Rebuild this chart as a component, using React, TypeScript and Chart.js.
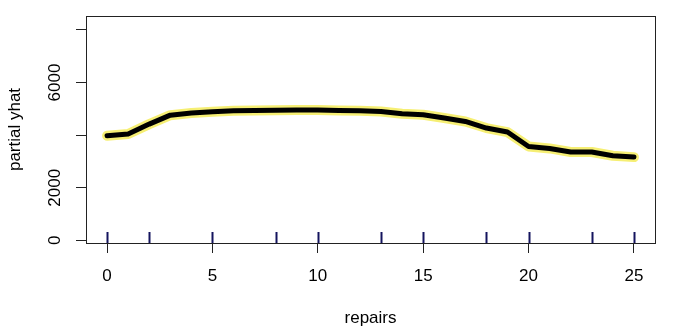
import React, { useEffect, useRef } from "react";
import { Chart, registerables } from "chart.js";

Chart.register(...registerables);

const repairs: number[] = [0, 1, 2, 3, 4, 5, 6, 7, 8, 9, 10, 11, 12, 13, 14, 15, 16, 17, 18, 19, 20, 21, 22, 23, 24, 25];
const partialYhat: number[] = [3980, 4045, 4420, 4760, 4840, 4890, 4925, 4940, 4950, 4952, 4952, 4940, 4928, 4900, 4812, 4775, 4650, 4520, 4270, 4118, 3570, 3495, 3358, 3358, 3218, 3165];
const rugValues: number[] = [0, 2, 5, 8, 10, 13, 15, 18, 20, 23, 25];
const xTicks: number[] = [0, 5, 10, 15, 20, 25];
const yTicks: number[] = [0, 2000, 4000, 6000, 8000];
const yLabelled: number[] = [0, 2000, 6000];

const FONT = "'Liberation Sans', Arial, Helvetica, sans-serif";

const boxAndRug = {
  id: "boxAndRug",
  afterDatasetsDraw(chart: any) {
    const { ctx, chartArea, scales } = chart;
    ctx.save();
    ctx.strokeStyle = "#14145e";
    ctx.lineWidth = 2;
    ctx.beginPath();
    for (const v of rugValues) {
      const px = Math.round(scales.x.getPixelForValue(v)) + 0.5;
      ctx.moveTo(px, chartArea.bottom);
      ctx.lineTo(px, chartArea.bottom - 11);
    }
    ctx.stroke();
    ctx.strokeStyle = "#222";
    ctx.lineWidth = 1;
    ctx.strokeRect(
      Math.round(chartArea.left) + 0.5,
      Math.round(chartArea.top) + 0.5,
      Math.round(chartArea.right - chartArea.left),
      Math.round(chartArea.bottom - chartArea.top)
    );
    ctx.restore();
  },
};

export default function App() {
  const ref = useRef<HTMLCanvasElement | null>(null);
  useEffect(() => {
    if (!ref.current) return;
    const pts = repairs.map((x, i) => ({ x, y: partialYhat[i] }));
    const chart = new Chart(ref.current, {
      type: "line",
      data: {
        datasets: [
          {
            data: pts,
            borderColor: "#f6ef74",
            borderWidth: 10,
            pointRadius: 0,
            tension: 0,
            borderCapStyle: "round",
            borderJoinStyle: "round",
            order: 2,
          },
          {
            data: pts,
            borderColor: "#000000",
            borderWidth: 5,
            pointRadius: 0,
            tension: 0,
            borderCapStyle: "round",
            borderJoinStyle: "round",
            order: 1,
          },
        ],
      },
      options: {
        animation: false,
        responsive: false,
        devicePixelRatio: 1,
        layout: { padding: { top: 16, right: 45, left: 0, bottom: 0 } },
        plugins: { legend: { display: false }, tooltip: { enabled: false } },
        scales: {
          x: {
            type: "linear",
            min: -1,
            max: 26,
            afterBuildTicks: (s: any) => {
              s.ticks = xTicks.map((v) => ({ value: v }));
            },
            afterFit: (s: any) => {
              s.height = 90;
            },
            grid: { display: true, drawOnChartArea: false, drawTicks: true, tickLength: 10, color: "#222" },
            border: { display: false },
            ticks: {
              color: "#000",
              font: { family: FONT, size: 17 },
              padding: 13,
              maxRotation: 0,
              minRotation: 0,
              callback: (v: any) => String(v),
            },
            title: {
              display: true,
              text: "repairs",
              color: "#000",
              font: { family: FONT, size: 17 },
              padding: { top: 0, bottom: 4 },
            },
          },
          y: {
            type: "linear",
            min: -100,
            max: 8530,
            afterBuildTicks: (s: any) => {
              s.ticks = yTicks.map((v) => ({ value: v }));
            },
            afterFit: (s: any) => {
              s.width = 86;
            },
            grid: { display: true, drawOnChartArea: false, drawTicks: true, tickLength: 10, color: "#222" },
            border: { display: false },
            ticks: {
              color: "#000",
              font: { family: FONT, size: 17 },
              padding: 2,
              minRotation: 90,
              maxRotation: 90,
              crossAlign: "center",
              callback: (v: any) => (yLabelled.includes(Number(v)) ? String(v) : ""),
            },
            title: {
              display: true,
              text: "partial yhat",
              color: "#000",
              font: { family: FONT, size: 17 },
              padding: { top: 5, bottom: 0 },
            },
          },
        },
      },
      plugins: [boxAndRug],
    } as any);
    return () => chart.destroy();
  }, []);
  return (
    <div style={{ position: "absolute", left: 0, top: 0, width: 700, height: 333, background: "#fff" }}>
      <canvas ref={ref} width={700} height={333} />
    </div>
  );
}
